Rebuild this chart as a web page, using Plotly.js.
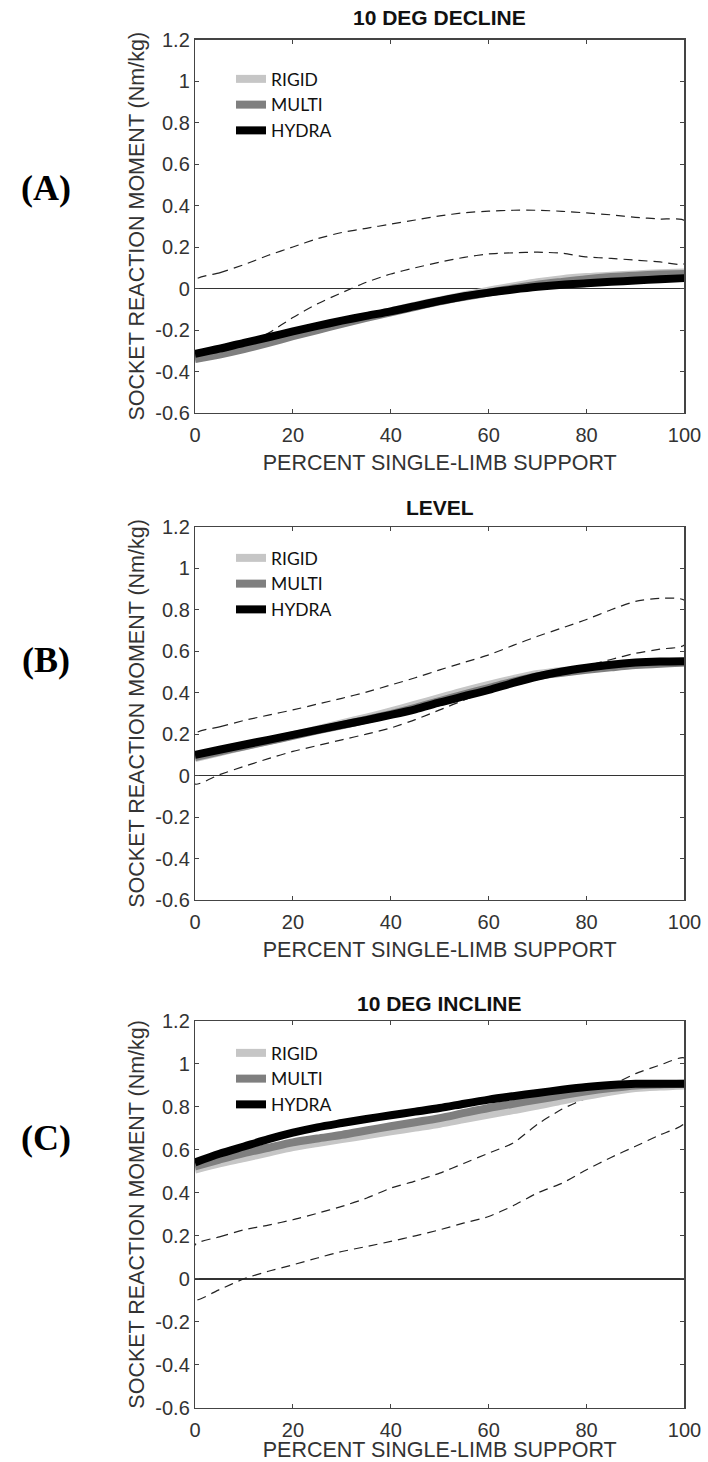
<!DOCTYPE html>
<html><head><meta charset="utf-8">
<script src="https://cdn.plot.ly/plotly-3.0.1.min.js"></script>
<style>body{margin:0;background:#fff}#chart{width:708px;height:1462px}</style>
</head><body><div id="chart"></div>
<script>
// ---------- data ----------
const pct = [0,5,10,15,20,25,30,35,40,45,50,55,60,65,70,75,80,85,90,95,100];
const seriesNames = ['RIGID','MULTI','HYDRA'];
const panelTitles = ['10 DEG DECLINE','LEVEL','10 DEG INCLINE'];
const panelLabels = ['(A)','(B)','(C)'];
const xTitle = 'PERCENT SINGLE-LIMB SUPPORT';
const yTitle = 'SOCKET REACTION MOMENT (Nm/kg)';
const xTickVals = [0,20,40,60,80,100];
const yTickVals = [-0.6,-0.4,-0.2,0,0.2,0.4,0.6,0.8,1,1.2];
const yTickText = ['-0.6','-0.4','-0.2','0','0.2','0.4','0.6','0.8','1','1.2'];

// 10 DEG DECLINE
const declineRigid = [-0.335,-0.313,-0.287,-0.258,-0.226,-0.196,-0.165,-0.137,-0.11,-0.083,-0.057,-0.033,-0.01,0.01,0.03,0.045,0.055,0.062,0.068,0.073,0.077];
const declineMulti = [-0.34,-0.318,-0.292,-0.262,-0.23,-0.2,-0.17,-0.142,-0.115,-0.088,-0.062,-0.04,-0.02,0.0,0.018,0.032,0.045,0.055,0.062,0.067,0.07];
const declineHydra = [-0.315,-0.29,-0.262,-0.235,-0.207,-0.18,-0.155,-0.132,-0.11,-0.085,-0.06,-0.037,-0.02,-0.005,0.008,0.018,0.025,0.032,0.038,0.045,0.05];
const declineUpper = [0.04,0.075,0.115,0.16,0.2,0.24,0.27,0.29,0.31,0.33,0.35,0.365,0.373,0.377,0.377,0.372,0.364,0.355,0.343,0.335,0.327];
const declineLower = [-0.33,-0.31,-0.275,-0.215,-0.14,-0.074,-0.02,0.03,0.07,0.1,0.127,0.15,0.167,0.172,0.175,0.17,0.152,0.145,0.137,0.128,0.12];

// LEVEL
const levelRigid = [0.085,0.113,0.14,0.167,0.195,0.223,0.252,0.28,0.31,0.342,0.375,0.408,0.438,0.465,0.49,0.505,0.515,0.527,0.536,0.542,0.545];
const levelMulti = [0.09,0.116,0.142,0.167,0.192,0.218,0.243,0.27,0.297,0.327,0.36,0.392,0.422,0.453,0.48,0.496,0.51,0.522,0.533,0.54,0.545];
const levelHydra = [0.1,0.125,0.149,0.173,0.197,0.221,0.245,0.268,0.293,0.32,0.353,0.383,0.413,0.447,0.478,0.502,0.52,0.535,0.545,0.55,0.552];
const levelUpper = [0.202,0.235,0.266,0.292,0.317,0.345,0.373,0.403,0.437,0.472,0.51,0.546,0.582,0.628,0.672,0.712,0.753,0.8,0.84,0.855,0.845];
const levelLower = [-0.04,0.005,0.045,0.082,0.117,0.145,0.173,0.2,0.23,0.27,0.317,0.365,0.41,0.45,0.485,0.51,0.53,0.56,0.59,0.61,0.63];

// 10 DEG INCLINE
const inclineRigid = [0.508,0.537,0.562,0.588,0.613,0.632,0.65,0.668,0.686,0.704,0.722,0.743,0.764,0.785,0.806,0.83,0.852,0.872,0.888,0.895,0.9];
const inclineMulti = [0.523,0.555,0.585,0.61,0.635,0.653,0.67,0.69,0.71,0.729,0.748,0.772,0.795,0.815,0.834,0.854,0.873,0.888,0.9,0.905,0.908];
const inclineHydra = [0.542,0.582,0.616,0.65,0.68,0.705,0.725,0.744,0.761,0.778,0.795,0.815,0.834,0.85,0.865,0.88,0.893,0.902,0.908,0.908,0.908];
const inclineUpper = [0.158,0.195,0.228,0.25,0.275,0.305,0.337,0.375,0.422,0.455,0.492,0.538,0.585,0.632,0.72,0.79,0.842,0.9,0.955,0.995,1.028];
const inclineLower = [-0.098,-0.05,0.0,0.035,0.065,0.097,0.127,0.15,0.174,0.2,0.228,0.26,0.29,0.34,0.4,0.445,0.508,0.565,0.617,0.67,0.725];

// ---------- build ----------
const seriesColors = ['#c6c6c6','#7f7f7f','#000000'];
const panels = [
  {series:[declineRigid,declineMulti,declineHydra], upper:declineUpper, lower:declineLower},
  {series:[levelRigid,levelMulti,levelHydra], upper:levelUpper, lower:levelLower},
  {series:[inclineRigid,inclineMulti,inclineHydra], upper:inclineUpper, lower:inclineLower}
];
const yDomains = [[0.71751,0.97298],[0.38427,0.63974],[0.03714,0.30164]];
const xDomain = [0.2754,0.9668];
const legendY = [0.95828,0.63064,0.29207];
const titleY = [0.98769,0.65321,0.31395];
const labelY = [0.8714,0.5486,0.2216];
const xTitleStandoff = [9,9,3];

const FONT = '"Liberation Sans", Arial, sans-serif';
const traces = [];
const layout = {
  width:708, height:1462,
  margin:{l:0,r:0,t:0,b:0},
  paper_bgcolor:'#ffffff', plot_bgcolor:'#ffffff',
  font:{family:FONT, color:'#333333'},
  annotations:[]
};

panels.forEach((p,i)=>{
  const sfx = i===0 ? '' : String(i+1);
  const xa = 'x'+sfx, ya = 'y'+sfx;
  const lg = 'legend'+sfx;
  // dashed envelope (closed loop)
  const loopX = pct.concat(pct.slice().reverse()).concat([pct[0]]);
  const loopY = p.upper.concat(p.lower.slice().reverse()).concat([p.upper[0]]);
  traces.push({x:loopX, y:loopY, xaxis:xa, yaxis:ya, mode:'lines', showlegend:false,
    line:{color:'#222222', width:1.2, dash:'9px,6px', shape:'spline', smoothing:0.6}, hoverinfo:'skip'});
  p.series.forEach((s,k)=>{
    traces.push({x:pct, y:s, xaxis:xa, yaxis:ya, mode:'lines', name:seriesNames[k], legend:lg,
      line:{color:seriesColors[k], width:8, shape:'spline', smoothing:0.8}});
  });
  layout['xaxis'+sfx] = {
    domain:xDomain, anchor:ya, range:[0,100], tickvals:xTickVals,
    ticks:'inside', ticklen:4, tickcolor:'#444', showline:true, mirror:'ticks',
    linecolor:'#444', linewidth:1.2, showgrid:false, zeroline:false,
    tickfont:{size:20, color:'#333'}, ticklabelstandoff:4,
    title:{text:xTitle, font:{size:21.5, color:'#333'}, standoff:xTitleStandoff[i]}
  };
  layout['yaxis'+sfx] = {
    domain:yDomains[i], anchor:xa, range:[-0.6,1.2], tickvals:yTickVals, ticktext:yTickText,
    ticks:'inside', ticklen:4, tickcolor:'#444', showline:true, mirror:'ticks',
    linecolor:'#444', linewidth:1.2, showgrid:false,
    zeroline:true, zerolinecolor:'#333', zerolinewidth:1.5,
    tickfont:{size:20, color:'#333'},
    title:{text:yTitle, font:{size:21.5, color:'#333'}, standoff:4}
  };
  layout[lg] = {x:0.3263, y:legendY[i], xanchor:'left', yanchor:'top',
    bgcolor:'rgba(0,0,0,0)', font:{family:'Lato, "Open Sans", sans-serif', size:17.5, color:'#111'},
    itemwidth:30, tracegroupgap:0};
  layout.annotations.push({xref:'paper', yref:'paper', x:(xDomain[0]+xDomain[1])/2, y:titleY[i],
    xanchor:'center', yanchor:'middle', showarrow:false,
    text:'<b>'+panelTitles[i]+'</b>', font:{family:FONT, size:21, color:'#111'}});
  layout.annotations.push({xref:'paper', yref:'paper', x:0.0650, y:labelY[i],
    xanchor:'center', yanchor:'middle', showarrow:false,
    text:'<b>'+panelLabels[i]+'</b>', font:{family:'"Liberation Serif", "Times New Roman", serif', size:36, color:'#000'}});
});

Plotly.newPlot('chart', traces, layout, {displayModeBar:false, staticPlot:true});
</script>
</body></html>
